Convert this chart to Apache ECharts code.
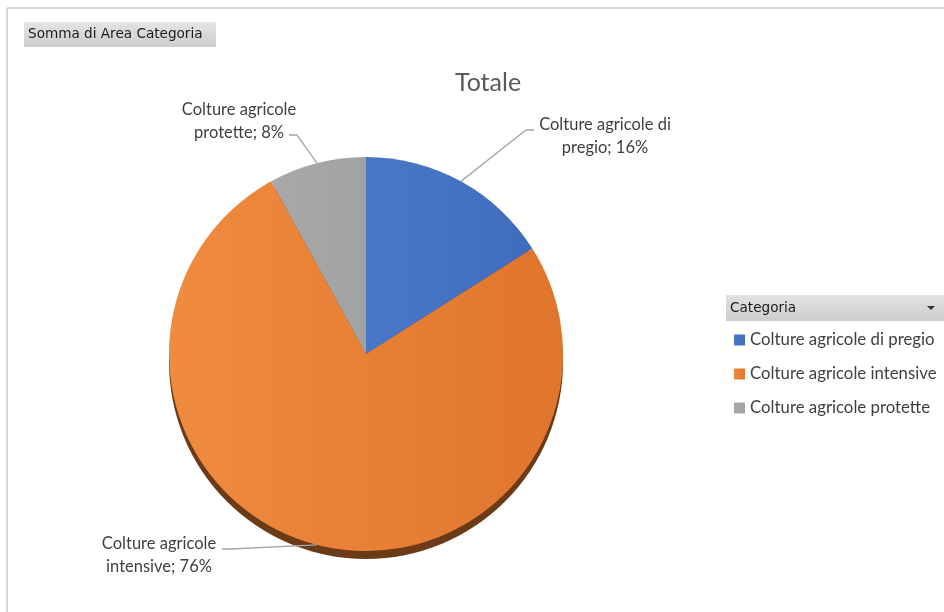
<!DOCTYPE html>
<html>
<head>
<meta charset="utf-8">
<script src="https://cdn.jsdelivr.net/npm/echarts@6/dist/echarts.min.js"></script>
<style>html,body{margin:0;padding:0;background:#fff}#c{width:944px;height:612px}</style>
</head>
<body>
<div id="c"></div>
<script>
// ---- data ----
const categories = ['Colture agricole di pregio', 'Colture agricole intensive', 'Colture agricole protette'];
const values = [16, 76, 8];
const chartTitle = 'Totale';
const fieldButton = 'Somma di Area Categoria';
const legendHeader = 'Categoria';
const firstLineWords = [3, 2, 2];

const colors = [
  new echarts.graphic.LinearGradient(0, 0, 1, 0, [{offset: 0, color: '#4A78C9'}, {offset: 1, color: '#406CBD'}]),
  new echarts.graphic.LinearGradient(0, 0, 1, 0, [{offset: 0, color: '#EF8B3F'}, {offset: 1, color: '#E0752D'}]),
  new echarts.graphic.LinearGradient(0, 0, 1, 0, [{offset: 0, color: '#A9A9A9'}, {offset: 1, color: '#A2A2A2'}])
];
// label block centres and leader-line attachment (x offset from centre, y offset from centre, turn direction)
const labelPos = [[605, 136], [159, 555], [239, 121]];
const lineAttach = [[-71, -6, -1], [63, -6, 1], [50, 14, 1]];

const total = values.reduce((a, b) => a + b, 0);
const chart = echarts.init(document.getElementById('c'), null, {renderer: 'canvas'});

const fontLbl = 'Lato';
chart.setOption({
  animation: false,
  backgroundColor: '#ffffff',
  title: {
    text: chartTitle, left: 483, top: 65, textAlign: 'center',
    textStyle: {fontFamily: fontLbl, fontSize: 25, fontWeight: 'normal', color: '#595959'}
  },
  legend: {
    orient: 'vertical', left: 729, top: 325,
    data: categories,
    icon: 'rect', itemWidth: 11, itemHeight: 11, itemGap: 14, itemStyle: {borderWidth: 0},
    textStyle: {fontFamily: fontLbl, fontSize: 16.8, color: '#404040', lineHeight: 20}
  },
  graphic: [
    {type: 'line', shape: {x1: 7, y1: 8, x2: 944, y2: 8}, style: {stroke: '#d9d9d9', lineWidth: 2}},
    {type: 'line', shape: {x1: 7, y1: 8, x2: 7, y2: 612}, style: {stroke: '#d9d9d9', lineWidth: 2}},
    {type: 'rect', shape: {x: 24, y: 22, width: 192, height: 25},
      style: {fill: new echarts.graphic.LinearGradient(0, 0, 0, 1, [{offset: 0, color: '#e4e4e4'}, {offset: 1, color: '#cdcdcd'}])}},
    {type: 'text', left: 28, top: 27, style: {text: fieldButton, font: '13.6px "DejaVu Sans"', fill: '#1a1a1a'}},
    {type: 'rect', shape: {x: 726, y: 295, width: 218, height: 26},
      style: {fill: new echarts.graphic.LinearGradient(0, 0, 0, 1, [{offset: 0, color: '#e2e2e2'}, {offset: 1, color: '#cdcdcd'}])}},
    {type: 'text', left: 730, top: 301, style: {text: legendHeader, font: '13.6px "DejaVu Sans"', fill: '#1a1a1a'}},
    {type: 'polygon', shape: {points: [[927, 306], [935, 306], [931, 310]]}, style: {fill: '#333'}}
  ],
  series: [
    {
      type: 'pie', name: 'main', z: 3,
      center: [366, 354], radius: 197, startAngle: 90, clockwise: true,
      data: categories.map((c, i) => ({name: c, value: values[i], itemStyle: {color: colors[i]}})),
      label: {
        show: true, fontFamily: fontLbl, fontSize: 16.5, color: '#404040', lineHeight: 23, align: 'center',
        formatter: p => {
          const w = p.name.split(' ');
          const k = firstLineWords[p.dataIndex];
          return w.slice(0, k).join(' ') + '\n' + w.slice(k).join(' ') + '; ' + Math.round(p.percent) + '%';
        }
      },
      labelLine: {show: true, lineStyle: {color: '#a6a6a6', width: 1.3}},
      labelLayout: p => {
        const i = p.dataIndex;
        const [cx, cy] = labelPos[i];
        const [ox, oy, dir] = lineAttach[i];
        const y = cy + oy;
        const endX = cx + ox;
        const turnX = endX + dir * 8;
        const start = p.labelLinePoints ? p.labelLinePoints[0] : [endX, y];
        return {
          x: cx, y: cy, align: 'center', verticalAlign: 'middle',
          labelLinePoints: [start, [turnX, y], [endX, y]]
        };
      },
      emphasis: {disabled: true}
    },
    {
      type: 'pie', name: 'edge', z: 1, silent: true,
      center: [366, 362], radius: 197,
      data: [{name: '', value: total}],
      itemStyle: {color: '#6b3a16'},
      label: {show: false}, labelLine: {show: false},
      emphasis: {disabled: true}, tooltip: {show: false}
    }
  ]
});
</script>
</body>
</html>
